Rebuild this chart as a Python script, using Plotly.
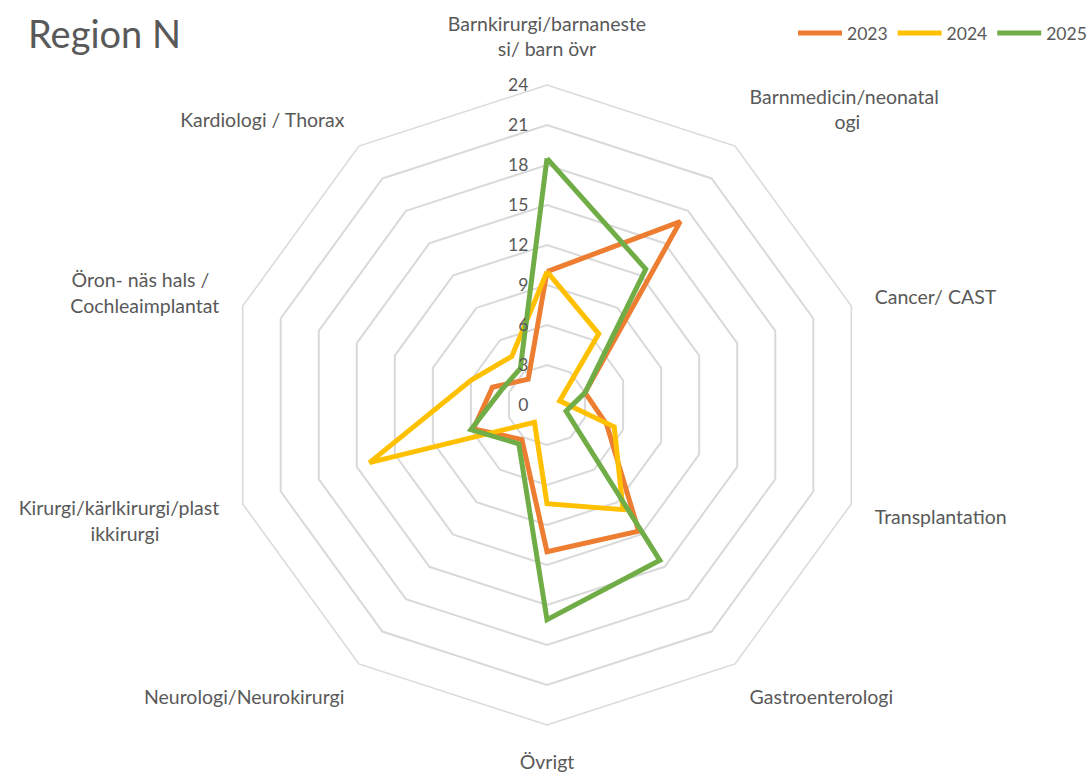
import plotly.graph_objects as go

NB = "\u00a0"
categories = [
    "Barnkirurgi/barnaneste<br>si/ barn övr",
    "Barnmedicin/neonatal<br>" + NB * 17 + "ogi",
    "Cancer/ CAST",
    "Transplantation",
    "Gastroenterologi",
    "Övrigt",
    "Neurologi/Neurokirurgi",
    "Kirurgi/kärlkirurgi/plast<br>ikkirurgi" + NB * 12,
    "Öron- näs hals /" + NB * 2 + "<br>Cochleaimplantat",
    "Kardiologi / Thorax",
]
v2023 = [10, 17, 3, 4.7, 11.7, 11, 3.2, 5.8, 4.3, 2.4]
v2024 = [10, 6.6, 1, 5.3, 9.7, 7.4, 1.6, 14, 6, 4.5]
v2025 = [18.5, 12.6, 3, 1.5, 14.4, 16.1, 3.6, 6.0, 3.6, 3.4]
series_names = ["2023", "2024", "2025"]
colors = ["#ED7D31", "#FFC000", "#70AD47"]
radial_ticks = list(range(0, 25, 3))

FONT = "Lato"
GRAY = "#595959"

fig = go.Figure()
for name, vals, col in zip(series_names, [v2023, v2024, v2025], colors):
    fig.add_trace(go.Scatterpolar(
        r=vals + vals[:1],
        theta=categories + categories[:1],
        mode="lines",
        name=name,
        line=dict(color=col, width=5),
    ))

W, H = 1092, 776
cx, cy, R = 547, 405, 320
fig.update_layout(
    width=W, height=H,
    margin=dict(l=0, r=0, t=0, b=0),
    paper_bgcolor="white",
    plot_bgcolor="white",
    font=dict(family=FONT, color=GRAY),
    title=dict(
        text="Region N",
        x=28 / W, xanchor="left", xref="paper",
        y=1 - 35 / H, yanchor="middle", yref="paper",
        font=dict(size=38, color=GRAY, family=FONT),
    ),
    legend=dict(
        orientation="h",
        x=1.0, xanchor="right",
        y=1 - 33 / H, yanchor="middle",
        font=dict(size=17.5, color=GRAY, family=FONT),
        itemwidth=44,
        tracegroupgap=0,
    ),
    polar=dict(
        domain=dict(x=[(cx - R) / W, (cx + R) / W],
                    y=[1 - (cy + R) / H, 1 - (cy - R) / H]),
        gridshape="linear",
        bgcolor="white",
        radialaxis=dict(
            range=[0, 24],
            tickvals=radial_ticks,
            ticktext=[str(t) for t in radial_ticks],
            angle=90,
            side="counterclockwise",
            tickangle=90,
            showline=False,
            showgrid=True,
            gridcolor="#D9D9D9",
            gridwidth=1.5,
            ticks="outside",
            ticklen=12,
            tickcolor="rgba(0,0,0,0)",
            tickfont=dict(size=17.5, color=GRAY, family=FONT),
        ),
        angularaxis=dict(
            rotation=90,
            direction="clockwise",
            showgrid=False,
            showline=True,
            linecolor="#D9D9D9",
            linewidth=1.5,
            ticks="outside",
            ticklen=20,
            tickcolor="rgba(0,0,0,0)",
            tickfont=dict(size=19.5, color=GRAY, family=FONT),
        ),
    ),
)

fig.write_html("out.html", config={"displayModeBar": False},
               post_script="document.body.style.margin='0px';")
